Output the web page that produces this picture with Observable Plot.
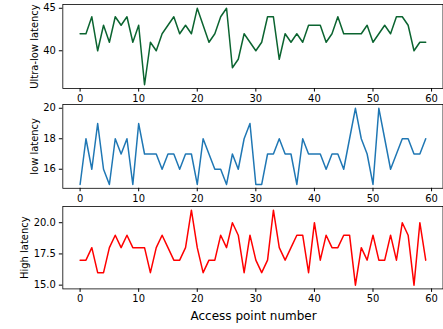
<!DOCTYPE html>
<html>
<head>
<meta charset="utf-8">
<script src="https://cdn.jsdelivr.net/npm/d3@7"></script>
<script src="https://cdn.jsdelivr.net/npm/@observablehq/plot@0.6"></script>
<style>
  html, body { margin: 0; padding: 0; background: #fff; overflow: hidden; }
  #chart { position: relative; width: 443px; height: 329px; overflow: hidden; font-family: "DejaVu Sans", sans-serif; }
  #chart svg { position: absolute; left: 0; overflow: visible; }
  #xlabel { position: absolute; left: 62.6px; width: 382px; top: 308.5px; text-align: center; font-size: 12px; color: #000; }
</style>
</head>
<body>
<div id="chart"></div>
<script>
// Data (access point number = index 0..59)
const ultraLow = [42,42,44,40,43,41,44,43,44,41,43,36,41,40,42,43,44,42,43,42,
                  45,43,41,42,44,45,38,39,42,41,40,41,44,44,39,42,41,42,41,43,
                  43,43,41,42,44,42,42,42,42,43,41,42,43,42,44,44,43,40,41,41];
const low = [15,18,16,19,16,15,18,17,18,15,19,17,17,17,16,17,17,16,17,17,
             15,18,17,16,16,15,17,16,18,19,15,15,17,17,18,17,17,15,18,17,
             17,17,16,17,17,16,18,20,18,17,15,20,18,16,17,18,18,17,17,18];
const high = [17,17,18,16,16,18,19,18,19,18,18,18,16,18,19,18,17,17,18,21,
              18,16,17,17,19,18,20,19,16,19,17,16,17,21,18,17,18,19,19,16,
              20,17,19,18,18,19,19,15,18,17,19,17,17,19,17,20,19,15,20,17];

const xTicks = [0, 10, 20, 30, 40, 50, 60];
const panels = [
  {name: "Ultra-low latency", values: ultraLow, color: "#0b6430", domain: [35.55, 45.45], ticks: [40, 45], fmt: d3.format("d"), top: 3.5, bottom: 88, labelOffset: 32},
  {name: "low latency", values: low, color: "#1f77b4", domain: [14.75, 20.25], ticks: [16, 18, 20], fmt: d3.format("d"), top: 104, bottom: 188.2, labelOffset: 32},
  {name: "High latency", values: high, color: "#ff0000", domain: [14.7, 21.3], ticks: [15, 17.5, 20], fmt: d3.format(".1f"), top: 205.5, bottom: 288.3, labelOffset: 42}
];

const chart = document.getElementById("chart");
const mt = 6, mb = 30;
for (const p of panels) {
  const data = p.values.map((v, i) => ({x: i, y: v}));
  const svg = Plot.plot({
    width: 445,
    height: (p.bottom - p.top) + mt + mb,
    marginLeft: 62.6,
    marginRight: 0.5,
    marginTop: mt,
    marginBottom: mb,
    style: {fontFamily: "DejaVu Sans, sans-serif", fontSize: "10px", color: "#000", background: "transparent"},
    x: {domain: [-2.95, 61.95]},
    y: {domain: p.domain},
    marks: [
      Plot.line(data, {x: "x", y: "y", stroke: p.color, strokeWidth: 1.5}),
      Plot.frame({stroke: "#000", strokeWidth: 0.8}),
      Plot.axisX({ticks: xTicks, tickSize: 3.5, tickPadding: 3, label: null, fontSize: 10}),
      Plot.axisY({ticks: p.ticks, tickFormat: p.fmt, tickSize: 3.5, tickPadding: 3.5, fontSize: 10,
                  label: p.name, labelAnchor: "center", labelArrow: "none", labelOffset: p.labelOffset})
    ]
  });
  svg.style.top = (p.top - mt) + "px";
  chart.appendChild(svg);
}
const xl = document.createElement("div");
xl.id = "xlabel";
xl.textContent = "Access point number";
chart.appendChild(xl);
</script>
</body>
</html>
